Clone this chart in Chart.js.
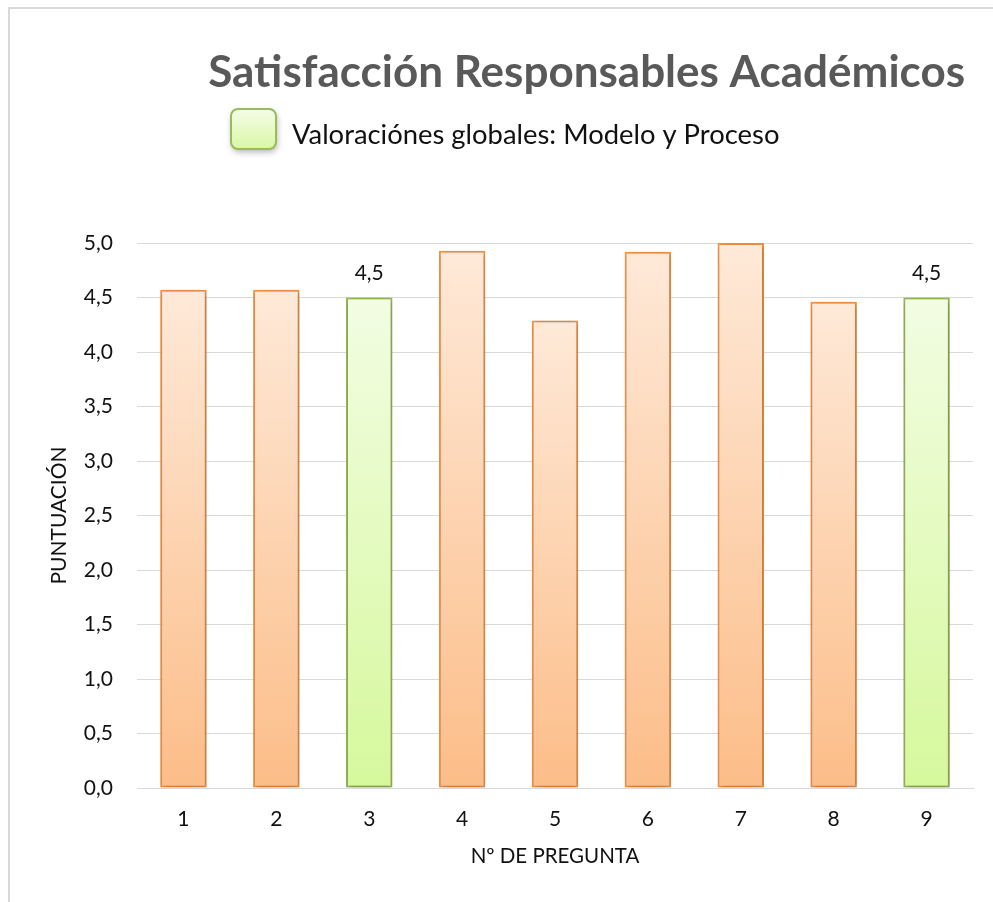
<!DOCTYPE html>
<html>
<head>
<meta charset="utf-8">
<script src="https://cdn.jsdelivr.net/npm/chart.js@4"></script>
<style>
  html, body { margin: 0; padding: 0; background: #fff; }
  #wrap { position: relative; width: 993px; height: 902px; }
  #frame { position: absolute; left: 8px; top: 7px; right: 0; bottom: 0;
           border-top: 2px solid #d9d9d9; border-left: 2px solid #d9d9d9; }
  canvas { position: absolute; left: 0; top: 0; }
</style>
</head>
<body>
<div id="wrap">
  <div id="frame"></div>
  <canvas id="chart" width="993" height="902"></canvas>
</div>
<script>
const preguntas = ['1', '2', '3', '4', '5', '6', '7', '8', '9'];
const puntuacion = [4.57, 4.57, 4.5, 4.93, 4.29, 4.92, 5.0, 4.46, 4.5];
// preguntas con valoración global (verde, con etiqueta)
const globales = [false, false, true, false, false, false, false, false, true];

const tituloTexto = 'Satisfacción Responsables Académicos';
const leyendaTexto = 'Valoraciónes globales: Modelo y Proceso';

const FONT = 'Lato, "Open Sans", sans-serif';

// gradient per bar, top light to bottom darker
function barFill(context) {
  const chart = context.chart;
  if (!chart.chartArea || !context.parsed) return null;
  const y = chart.scales.y;
  const top = y.getPixelForValue(context.parsed.y);
  const bottom = y.getPixelForValue(0);
  const g = chart.ctx.createLinearGradient(0, top, 0, bottom);
  if (globales[context.dataIndex]) {
    g.addColorStop(0, '#f2fde3');
    g.addColorStop(1, '#d6f89c');
  } else {
    g.addColorStop(0, '#fee9d8');
    g.addColorStop(1, '#fcbd88');
  }
  return g;
}

const shadowPlugin = {
  id: 'barShadow',
  beforeDatasetsDraw(chart) {
    const ctx = chart.ctx;
    ctx.save();
    ctx.shadowColor = 'rgba(0,0,0,0.28)';
    ctx.shadowBlur = 6;
    ctx.shadowOffsetX = 1;
    ctx.shadowOffsetY = 1;
  },
  afterDatasetsDraw(chart) {
    chart.ctx.restore();
  }
};

// "4,5" labels over the global bars
const labelPlugin = {
  id: 'valueLabels',
  afterDatasetsDraw(chart) {
    const ctx = chart.ctx;
    const meta = chart.getDatasetMeta(0);
    ctx.save();
    ctx.font = '21px ' + FONT;
    ctx.fillStyle = '#111';
    ctx.textAlign = 'center';
    ctx.textBaseline = 'middle';
    meta.data.forEach(function (bar, i) {
      if (!globales[i]) return;
      ctx.fillText(puntuacion[i].toFixed(1).replace('.', ','), bar.x, bar.y - 24);
    });
    ctx.restore();
  }
};

// title and legend drawn in the header space
const headerPlugin = {
  id: 'header',
  afterDraw(chart) {
    const ctx = chart.ctx;
    ctx.save();
    ctx.font = 'bold 44px ' + FONT;
    ctx.fillStyle = '#595959';
    ctx.textAlign = 'right';
    ctx.textBaseline = 'alphabetic';
    ctx.fillText(tituloTexto, 965, 87);

    // legend swatch
    ctx.shadowColor = 'rgba(0,0,0,0.3)';
    ctx.shadowBlur = 6;
    ctx.shadowOffsetX = 1;
    ctx.shadowOffsetY = 3;
    const g = ctx.createLinearGradient(0, 108, 0, 149);
    g.addColorStop(0, '#f4fde8');
    g.addColorStop(1, '#d9f7a6');
    ctx.fillStyle = g;
    ctx.strokeStyle = '#9bbb59';
    ctx.lineWidth = 2;
    ctx.beginPath();
    ctx.roundRect(231, 109, 45, 40, 7);
    ctx.fill();
    ctx.shadowColor = 'transparent';
    ctx.stroke();

    ctx.font = '27.4px ' + FONT;
    ctx.fillStyle = '#111';
    ctx.textAlign = 'left';
    ctx.fillText(leyendaTexto, 292, 144);
    ctx.restore();
  }
};

new Chart(document.getElementById('chart'), {
  type: 'bar',
  data: {
    labels: preguntas,
    datasets: [{
      label: leyendaTexto,
      data: puntuacion,
      backgroundColor: barFill,
      borderColor: globales.map(g => g ? '#9bbb59' : '#f79646'),
      borderWidth: 2,
      borderSkipped: false,
      barPercentage: 0.5,
      categoryPercentage: 1.0
    }]
  },
  options: {
    responsive: false,
    animation: false,
    layout: { padding: { left: 0, right: 20, top: 243, bottom: 0 } },
    plugins: {
      legend: { display: false },
      title: { display: false },
      tooltip: { enabled: false }
    },
    scales: {
      x: {
        grid: { display: false },
        border: { display: true, color: '#d9d9d9', width: 1 },
        ticks: { color: '#111', font: { family: FONT, size: 21 }, padding: 11 },
        title: {
          display: true,
          text: 'Nº DE PREGUNTA',
          color: '#111',
          font: { family: FONT, size: 20.5 },
          padding: { top: 0, bottom: 33 }
        },
        afterFit(scale) { scale.height = 114; }
      },
      y: {
        min: 0,
        max: 5,
        grid: { color: '#d9d9d9', lineWidth: 1, drawTicks: false },
        border: { display: false },
        ticks: {
          stepSize: 0.5,
          padding: 24,
          color: '#111',
          font: { family: FONT, size: 21 },
          callback: v => v.toFixed(1).replace('.', ',')
        },
        title: {
          display: true,
          text: 'PUNTUACIÓN',
          color: '#111',
          font: { family: FONT, size: 21 },
          padding: { top: 47, bottom: 0 }
        },
        afterFit(scale) { scale.width = 137; }
      }
    }
  },
  plugins: [shadowPlugin, labelPlugin, headerPlugin]
});
</script>
</body>
</html>
